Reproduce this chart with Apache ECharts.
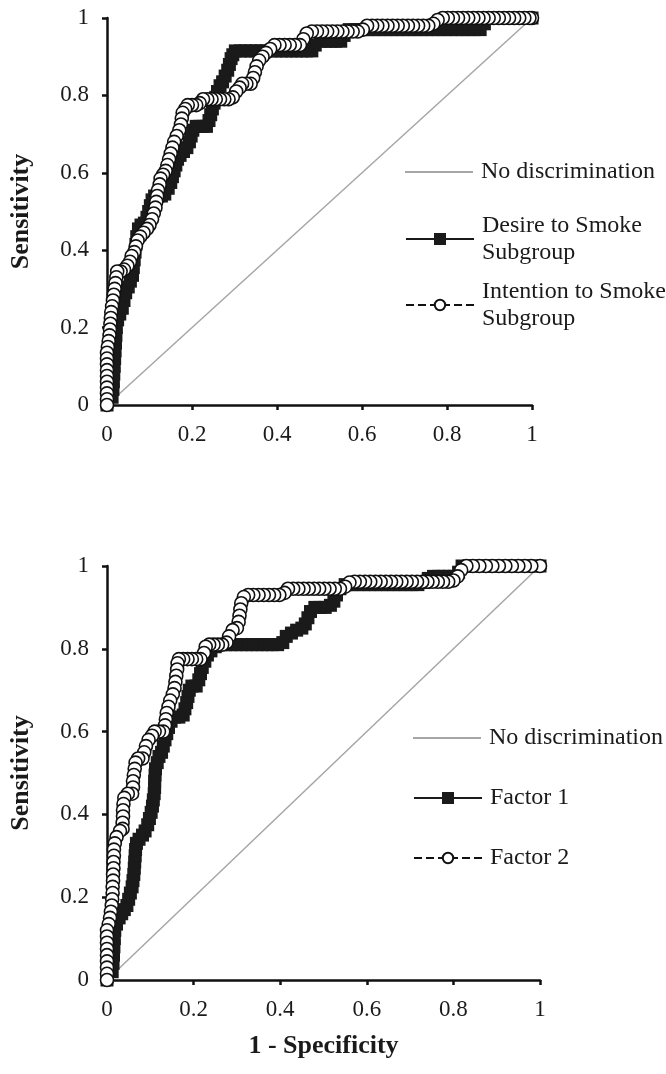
<!DOCTYPE html>
<html>
<head>
<meta charset="utf-8">
<title>ROC curves</title>
<script src="https://cdn.jsdelivr.net/npm/echarts@6/dist/echarts.min.js"></script>
<style>
  html, body { margin: 0; padding: 0; background: #fff; }
  #main { width: 666px; height: 1074px; }
</style>
</head>
<body>
<div id="main"></div>
<script>
// [1 - specificity, sensitivity] pairs
const diagonal = [[0, 0], [1, 1]]

const desireTop = [
  [0,0],[0.012,0.02],[0.014,0.04],[0.015,0.06],[0.016,0.08],[0.017,0.1],[0.018,0.12],[0.019,0.14],[0.02,0.16],[0.021,0.18],
  [0.022,0.2],[0.025,0.22],[0.03,0.235],[0.036,0.25],[0.04,0.27],[0.044,0.29],[0.05,0.305],[0.055,0.32],[0.06,0.335],[0.062,0.355],
  [0.064,0.375],[0.066,0.395],[0.068,0.415],[0.07,0.435],[0.074,0.455],[0.08,0.465],[0.088,0.47],[0.094,0.485],[0.098,0.5],[0.102,0.515],
  [0.106,0.53],[0.112,0.54],[0.12,0.54],[0.128,0.54],[0.136,0.545],[0.144,0.56],[0.15,0.575],[0.154,0.59],[0.158,0.605],[0.162,0.62],
  [0.166,0.635],[0.172,0.645],[0.18,0.655],[0.188,0.665],[0.194,0.68],[0.198,0.695],[0.202,0.71],[0.21,0.72],[0.218,0.72],[0.226,0.72],
  [0.234,0.72],[0.24,0.735],[0.244,0.75],[0.248,0.765],[0.252,0.78],[0.256,0.795],[0.26,0.81],[0.266,0.825],[0.272,0.835],[0.278,0.85],
  [0.284,0.865],[0.288,0.88],[0.292,0.895],[0.296,0.905],[0.302,0.915],[0.314,0.915],[0.326,0.915],[0.338,0.915],[0.35,0.915],[0.362,0.915],
  [0.374,0.915],[0.386,0.915],[0.398,0.915],[0.41,0.915],[0.422,0.915],[0.434,0.915],[0.446,0.915],[0.458,0.915],[0.47,0.915],[0.482,0.915],
  [0.49,0.93],[0.502,0.94],[0.514,0.94],[0.526,0.94],[0.538,0.94],[0.55,0.94],[0.558,0.955],[0.57,0.97],[0.584,0.97],[0.598,0.97],
  [0.612,0.97],[0.626,0.97],[0.64,0.97],[0.654,0.97],[0.668,0.97],[0.682,0.97],[0.696,0.97],[0.71,0.97],[0.724,0.97],[0.738,0.97],
  [0.752,0.97],[0.766,0.97],[0.78,0.97],[0.794,0.97],[0.808,0.97],[0.822,0.97],[0.836,0.97],[0.85,0.97],[0.864,0.97],[0.878,0.97],
  [0.888,0.985],[0.9,1],[0.915,1],[0.93,1],[0.945,1],[0.96,1],[0.975,1],[0.99,1],[1,1]
]

const intentionTop = [
  [0,0],[0,0.015],[0,0.03],[0,0.045],[0,0.06],[0,0.075],[0,0.09],[0,0.105],[0,0.12],[0,0.135],
  [0.002,0.15],[0.004,0.165],[0.006,0.18],[0.007,0.195],[0.008,0.21],[0.009,0.225],[0.01,0.24],[0.012,0.255],[0.014,0.27],[0.016,0.285],
  [0.018,0.3],[0.02,0.315],[0.022,0.33],[0.024,0.345],[0.032,0.345],[0.04,0.35],[0.048,0.36],[0.054,0.37],[0.058,0.385],[0.064,0.395],
  [0.068,0.41],[0.072,0.425],[0.078,0.435],[0.086,0.445],[0.094,0.455],[0.1,0.465],[0.106,0.48],[0.11,0.495],[0.114,0.51],[0.116,0.525],
  [0.118,0.54],[0.12,0.555],[0.124,0.57],[0.126,0.585],[0.132,0.595],[0.138,0.605],[0.142,0.62],[0.146,0.635],[0.15,0.65],[0.154,0.665],
  [0.158,0.68],[0.164,0.695],[0.17,0.71],[0.174,0.725],[0.176,0.74],[0.178,0.755],[0.184,0.765],[0.19,0.775],[0.2,0.775],[0.21,0.775],
  [0.218,0.78],[0.226,0.79],[0.236,0.79],[0.246,0.79],[0.256,0.79],[0.266,0.79],[0.276,0.79],[0.286,0.79],[0.296,0.795],[0.304,0.81],
  [0.312,0.82],[0.318,0.83],[0.328,0.83],[0.338,0.83],[0.344,0.845],[0.348,0.86],[0.352,0.875],[0.358,0.89],[0.366,0.9],[0.374,0.91],
  [0.384,0.92],[0.394,0.93],[0.406,0.93],[0.418,0.93],[0.43,0.93],[0.442,0.93],[0.454,0.93],[0.462,0.945],[0.47,0.96],[0.482,0.965],
  [0.494,0.965],[0.506,0.965],[0.518,0.965],[0.53,0.965],[0.542,0.965],[0.554,0.965],[0.566,0.965],[0.578,0.965],[0.59,0.965],[0.602,0.97],
  [0.612,0.98],[0.624,0.98],[0.636,0.98],[0.648,0.98],[0.66,0.98],[0.672,0.98],[0.684,0.98],[0.696,0.98],[0.708,0.98],[0.72,0.98],
  [0.732,0.98],[0.744,0.98],[0.756,0.98],[0.768,0.985],[0.778,0.995],[0.79,1],[0.802,1],[0.814,1],[0.826,1],[0.838,1],
  [0.85,1],[0.862,1],[0.874,1],[0.886,1],[0.898,1],[0.91,1],[0.922,1],[0.934,1],[0.946,1],[0.958,1],
  [0.97,1],[0.982,1],[0.994,1],[1,1]
]

const factor1 = [
  [0,0],[0.012,0.02],[0.014,0.04],[0.015,0.06],[0.016,0.08],[0.017,0.1],[0.018,0.12],[0.022,0.135],[0.028,0.15],[0.034,0.16],
  [0.04,0.17],[0.046,0.18],[0.05,0.195],[0.054,0.21],[0.058,0.225],[0.06,0.24],[0.062,0.255],[0.063,0.27],[0.064,0.285],[0.065,0.3],
  [0.066,0.315],[0.068,0.33],[0.074,0.34],[0.082,0.35],[0.088,0.36],[0.094,0.375],[0.098,0.39],[0.102,0.405],[0.105,0.42],[0.107,0.435],
  [0.109,0.45],[0.11,0.465],[0.11,0.48],[0.111,0.495],[0.112,0.51],[0.116,0.525],[0.12,0.54],[0.126,0.55],[0.13,0.565],[0.134,0.58],
  [0.138,0.595],[0.142,0.61],[0.148,0.625],[0.156,0.635],[0.166,0.635],[0.176,0.64],[0.18,0.655],[0.184,0.67],[0.187,0.685],[0.19,0.7],
  [0.196,0.71],[0.206,0.71],[0.212,0.725],[0.216,0.74],[0.22,0.755],[0.226,0.77],[0.232,0.785],[0.24,0.795],[0.25,0.805],[0.262,0.81],
  [0.274,0.81],[0.286,0.81],[0.298,0.81],[0.31,0.81],[0.322,0.81],[0.334,0.81],[0.346,0.81],[0.358,0.81],[0.37,0.81],[0.382,0.81],
  [0.394,0.81],[0.406,0.815],[0.414,0.83],[0.426,0.838],[0.438,0.845],[0.45,0.85],[0.458,0.86],[0.464,0.875],[0.47,0.89],[0.48,0.9],
  [0.492,0.9],[0.504,0.9],[0.516,0.905],[0.524,0.915],[0.53,0.93],[0.538,0.945],[0.55,0.955],[0.564,0.955],[0.578,0.955],[0.592,0.955],
  [0.606,0.955],[0.62,0.955],[0.634,0.955],[0.648,0.955],[0.662,0.955],[0.676,0.955],[0.69,0.955],[0.704,0.955],[0.718,0.955],[0.732,0.96],
  [0.742,0.97],[0.754,0.975],[0.766,0.975],[0.778,0.975],[0.79,0.975],[0.802,0.975],[0.812,0.985],[0.82,1],[0.835,1],[0.85,1],
  [0.865,1],[0.88,1],[0.895,1],[0.91,1],[0.925,1],[0.94,1],[0.955,1],[0.97,1],[0.985,1],[1,1]
]

const factor2 = [
  [0,0],[0,0.015],[0,0.03],[0,0.045],[0,0.06],[0,0.075],[0,0.09],[0,0.105],[0,0.12],[0.004,0.135],
  [0.007,0.15],[0.009,0.165],[0.011,0.18],[0.012,0.195],[0.013,0.21],[0.013,0.225],[0.014,0.24],[0.014,0.255],[0.015,0.27],[0.015,0.285],
  [0.016,0.3],[0.016,0.315],[0.018,0.33],[0.022,0.345],[0.03,0.36],[0.036,0.365],[0.036,0.38],[0.037,0.395],[0.037,0.41],[0.038,0.425],
  [0.04,0.44],[0.048,0.45],[0.058,0.45],[0.06,0.465],[0.06,0.48],[0.062,0.495],[0.064,0.51],[0.066,0.525],[0.072,0.535],[0.082,0.535],
  [0.086,0.55],[0.09,0.565],[0.096,0.58],[0.104,0.59],[0.11,0.6],[0.12,0.6],[0.13,0.6],[0.134,0.615],[0.136,0.63],[0.138,0.645],
  [0.142,0.66],[0.146,0.675],[0.152,0.69],[0.156,0.705],[0.158,0.72],[0.16,0.735],[0.162,0.75],[0.163,0.765],[0.166,0.775],[0.176,0.775],
  [0.186,0.775],[0.196,0.775],[0.206,0.775],[0.216,0.775],[0.224,0.79],[0.228,0.805],[0.236,0.81],[0.246,0.81],[0.256,0.81],[0.266,0.81],
  [0.276,0.815],[0.282,0.83],[0.29,0.845],[0.3,0.85],[0.304,0.865],[0.306,0.88],[0.308,0.895],[0.31,0.91],[0.316,0.925],[0.326,0.93],
  [0.338,0.93],[0.35,0.93],[0.362,0.93],[0.374,0.93],[0.386,0.93],[0.398,0.93],[0.41,0.935],[0.418,0.945],[0.43,0.945],[0.442,0.945],
  [0.454,0.945],[0.466,0.945],[0.478,0.945],[0.49,0.945],[0.502,0.945],[0.514,0.945],[0.526,0.945],[0.538,0.945],[0.55,0.95],[0.56,0.96],
  [0.572,0.962],[0.584,0.962],[0.596,0.962],[0.608,0.962],[0.62,0.962],[0.632,0.962],[0.644,0.962],[0.656,0.962],[0.668,0.962],[0.68,0.962],
  [0.692,0.962],[0.704,0.962],[0.716,0.962],[0.728,0.962],[0.74,0.962],[0.752,0.962],[0.764,0.962],[0.776,0.962],[0.788,0.962],[0.8,0.965],
  [0.81,0.975],[0.818,0.99],[0.83,1],[0.845,1],[0.86,1],[0.875,1],[0.89,1],[0.905,1],[0.92,1],[0.935,1],
  [0.95,1],[0.965,1],[0.98,1],[1,1]
]

const font = 'Liberation Serif'
const ink = '#1a1a1a'

function valueAxis(gridIndex, extra) {
  return Object.assign({
    type: 'value',
    gridIndex: gridIndex,
    min: 0,
    max: 1,
    interval: 0.2,
    splitLine: { show: false },
    axisLine: { lineStyle: { color: '#111', width: 2.5 } },
    axisTick: { length: 5, lineStyle: { color: '#111', width: 2.5 } },
    axisLabel: { color: ink, fontFamily: font, fontSize: 23, margin: 18 }
  }, extra)
}

const nameStyle = { color: ink, fontFamily: font, fontSize: 26, fontWeight: 'bold' }

function noDiscrimination(idx) {
  return {
    name: 'No discrimination', type: 'line', xAxisIndex: idx, yAxisIndex: idx,
    data: diagonal, symbol: 'none', color: '#a6a6a6',
    lineStyle: { color: '#a6a6a6', width: 1.5 }, z: 1
  }
}

function squares(name, idx, data) {
  // drawn from (1,1) down to (0,0) like the source plot
  return {
    name: name, type: 'line', xAxisIndex: idx, yAxisIndex: idx,
    data: data.slice().reverse(), clip: false,
    symbol: 'rect', symbolSize: 13, color: '#1a1a1a',
    itemStyle: { color: '#1a1a1a', borderWidth: 0 },
    lineStyle: { color: '#1a1a1a', width: 2 }, z: 2
  }
}

function circles(name, idx, data) {
  return {
    name: name, type: 'line', xAxisIndex: idx, yAxisIndex: idx,
    data: data.slice().reverse(), clip: false,
    symbol: 'circle', symbolSize: 13, color: '#111',
    itemStyle: { color: '#fff', borderColor: '#111', borderWidth: 1.6 },
    lineStyle: { color: '#111', width: 1.5, type: 'dashed' }, z: 3
  }
}

// single-item legend; twoLines pushes the text down so the icon sits on the first line
function legendItem(name, left, centerY, twoLines, icon) {
  const item = { name: name }
  const lg = {
    data: [item], left: left, top: twoLines ? centerY - 40.5 : centerY - 13.5,
    padding: 0, itemWidth: 68, itemHeight: 15, selectedMode: false,
    textStyle: { color: ink, fontFamily: font, fontSize: 24, lineHeight: 27,
      padding: [twoLines ? 27 : 0, 0, 0, 3] }
  }
  if (icon === 'bar') {
    item.icon = 'rect'
    lg.itemHeight = 2
    lg.itemStyle = { color: '#a6a6a6', borderWidth: 0 }
  }
  if (icon === 'circle') lg.itemHeight = 13
  return lg
}

const chart = echarts.init(document.getElementById('main'))

chart.setOption({
  backgroundColor: '#fff',
  animation: false,
  grid: [
    { left: 107, top: 18, width: 425, height: 387 },
    { left: 107, top: 566, width: 433, height: 414 }
  ],
  xAxis: [
    valueAxis(0),
    valueAxis(1, { name: '1 - Specificity', nameLocation: 'middle', nameGap: 53, nameTextStyle: nameStyle })
  ],
  yAxis: [
    valueAxis(0, { name: 'Sensitivity', nameLocation: 'middle', nameGap: 73, nameTextStyle: nameStyle }),
    valueAxis(1, { name: 'Sensitivity', nameLocation: 'middle', nameGap: 73, nameTextStyle: nameStyle })
  ],
  legend: [
    legendItem('No discrimination', 405, 172, false, 'bar'),
    legendItem('Desire to Smoke\nSubgroup', 405, 239, true),
    legendItem('Intention to Smoke\nSubgroup', 405, 305, true, 'circle'),
    legendItem('No discrimination', 413, 738, false, 'bar'),
    legendItem('Factor 1', 413, 798, false),
    legendItem('Factor 2', 413, 858, false, 'circle')
  ],
  series: [
    noDiscrimination(0),
    squares('Desire to Smoke\nSubgroup', 0, desireTop),
    circles('Intention to Smoke\nSubgroup', 0, intentionTop),
    noDiscrimination(1),
    squares('Factor 1', 1, factor1),
    circles('Factor 2', 1, factor2)
  ]
})
</script>
</body>
</html>
